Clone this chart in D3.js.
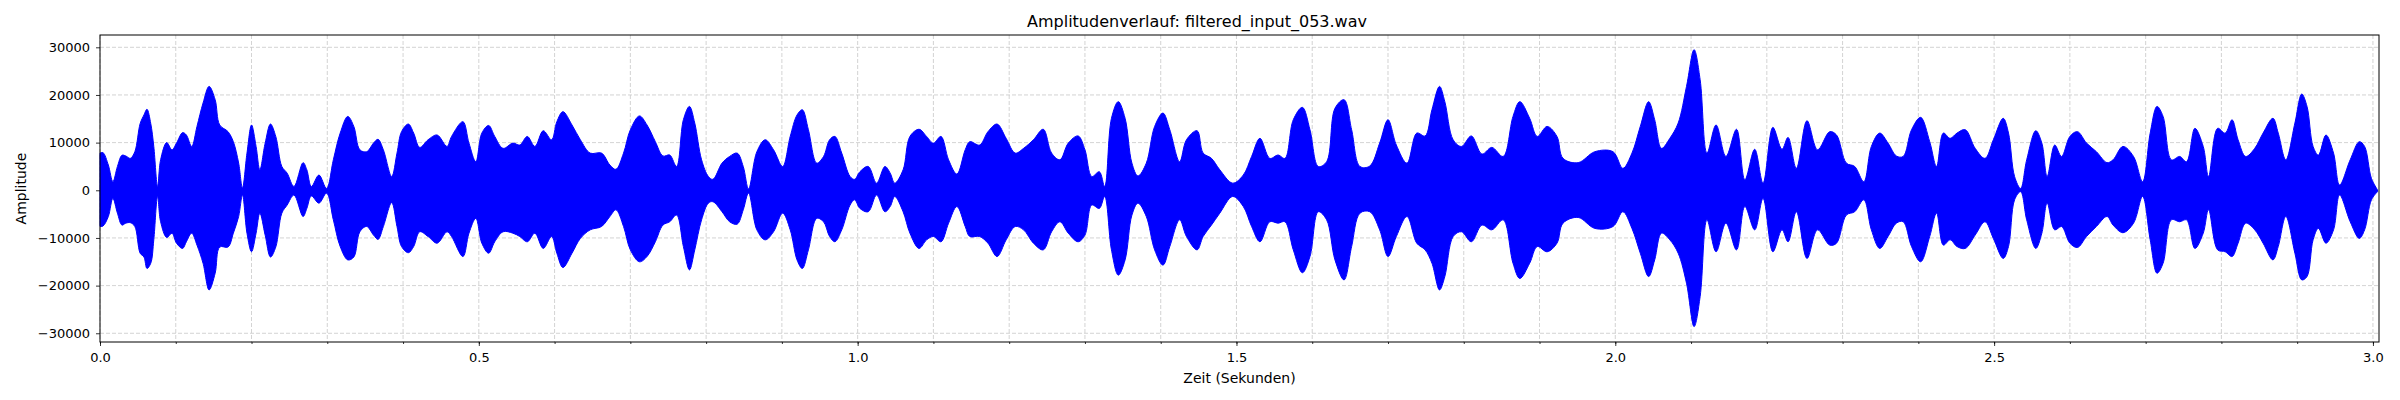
<!DOCTYPE html>
<html>
<head>
<meta charset="utf-8">
<script src="https://cdn.jsdelivr.net/npm/d3@7"></script>
<style>
  body { margin: 0; background: #fff; }
  svg text { font-family: "DejaVu Sans", sans-serif; fill: #000; }
</style>
</head>
<body>
<div id="chart"></div>
<script>
// envelope of the waveform: time (s), upper and lower amplitude
const times = [
  0.000, 0.004, 0.011, 0.017, 0.023, 0.029, 0.034, 0.040, 0.046, 0.053,
  0.058, 0.062, 0.067, 0.071, 0.076, 0.080, 0.088, 0.095, 0.101, 0.109,
  0.114, 0.121, 0.128, 0.136, 0.144, 0.152, 0.158, 0.169, 0.176, 0.183,
  0.188, 0.194, 0.200, 0.206, 0.211, 0.218, 0.225, 0.232, 0.240, 0.247,
  0.256, 0.268, 0.273, 0.279, 0.289, 0.299, 0.308, 0.317, 0.327, 0.335,
  0.343, 0.352, 0.361, 0.367, 0.374, 0.385, 0.392, 0.398, 0.407, 0.414,
  0.422, 0.433, 0.445, 0.458, 0.464, 0.479, 0.487, 0.496, 0.504, 0.513,
  0.521, 0.532, 0.545, 0.554, 0.564, 0.574, 0.585, 0.596, 0.603, 0.611,
  0.623, 0.634, 0.647, 0.662, 0.673, 0.681, 0.691, 0.700, 0.712, 0.722,
  0.733, 0.743, 0.752, 0.761, 0.770, 0.778, 0.785, 0.794, 0.803, 0.809,
  0.821, 0.831, 0.841, 0.849, 0.856, 0.867, 0.878, 0.889, 0.901, 0.911,
  0.920, 0.927, 0.935, 0.946, 0.955, 0.963, 0.970, 0.979, 0.990, 0.996,
  1.003, 1.014, 1.025, 1.036, 1.043, 1.049, 1.060, 1.069, 1.081, 1.091,
  1.100, 1.110, 1.120, 1.131, 1.142, 1.148, 1.161, 1.172, 1.184, 1.196,
  1.208, 1.219, 1.232, 1.245, 1.256, 1.267, 1.278, 1.291, 1.300, 1.309,
  1.319, 1.326, 1.335, 1.344, 1.353, 1.362, 1.370, 1.381, 1.392, 1.403,
  1.412, 1.425, 1.434, 1.448, 1.456, 1.467, 1.478, 1.495, 1.509, 1.520,
  1.531, 1.544, 1.555, 1.564, 1.575, 1.587, 1.597, 1.608, 1.619, 1.630,
  1.642, 1.652, 1.663, 1.676, 1.689, 1.700, 1.711, 1.725, 1.738, 1.749,
  1.758, 1.768, 1.775, 1.786, 1.797, 1.810, 1.824, 1.837, 1.852, 1.865,
  1.874, 1.887, 1.897, 1.910, 1.923, 1.931, 1.951, 1.973, 1.997, 2.010,
  2.022, 2.033, 2.044, 2.052, 2.061, 2.072, 2.083, 2.094, 2.104, 2.112,
  2.121, 2.133, 2.146, 2.160, 2.171, 2.184, 2.195, 2.208, 2.220, 2.228,
  2.239, 2.253, 2.267, 2.283, 2.292, 2.305, 2.316, 2.328, 2.338, 2.349,
  2.360, 2.371, 2.380, 2.391, 2.403, 2.415, 2.424, 2.433, 2.442, 2.451,
  2.462, 2.475, 2.488, 2.499, 2.512, 2.519, 2.527, 2.535, 2.543, 2.555,
  2.563, 2.570, 2.580, 2.589, 2.600, 2.610, 2.622, 2.635, 2.649, 2.657,
  2.670, 2.684, 2.696, 2.706, 2.715, 2.723, 2.734, 2.745, 2.754, 2.765,
  2.776, 2.783, 2.795, 2.805, 2.814, 2.822, 2.832, 2.844, 2.855, 2.868,
  2.875, 2.885, 2.897, 2.906, 2.913, 2.921, 2.928, 2.938, 2.948, 2.956,
  2.970, 2.982, 2.989, 2.998, 3.006
];

const upper = [
  7800, 7900, 5300, 1800, 5000, 7350, 7200, 6700, 8100, 14000,
  15800, 17000, 14000, 9200, 800, 6400, 10000, 8500, 9900, 12100,
  11600, 9200, 13400, 18300, 21800, 19000, 13700, 12300, 10200, 5700,
  500, 7800, 13700, 9200, 4300, 9900, 13900, 11300, 5000, 3600,
  800, 5800, 4300, 800, 3200, 400, 6400, 12000, 15500, 13400,
  8500, 8100, 9900, 10700, 8500, 2900, 7800, 12300, 13900, 12000,
  9000, 10600, 11600, 9200, 11300, 14400, 9900, 6000, 12000, 13600,
  11300, 8800, 9900, 9500, 11300, 9200, 12500, 10600, 14400, 16500,
  13700, 10600, 7800, 7800, 5300, 4400, 7800, 12700, 15600, 13700,
  10200, 7200, 7400, 5000, 14800, 17600, 14100, 6400, 2900, 2300,
  5700, 7100, 7800, 5000, 300, 8100, 10600, 8500, 5000, 11300,
  15800, 16900, 12700, 5700, 7100, 10600, 11300, 7800, 2900, 2300,
  3900, 5000, 1500, 5000, 3600, 1500, 4300, 11300, 12800, 11300,
  9900, 11300, 6400, 3400, 8500, 10200, 9500, 12300, 13900, 10900,
  7800, 8800, 10600, 12800, 7800, 6400, 9900, 11400, 8500, 2900,
  3900, 800, 15100, 18600, 15100, 5700, 3000, 5700, 13400, 16200,
  12700, 6000, 10600, 12500, 7800, 6700, 4300, 1500, 3200, 7100,
  10900, 6700, 7400, 6700, 14800, 17400, 12700, 5000, 6000, 17200,
  19000, 12700, 5000, 5100, 9900, 14800, 9500, 5700, 12000, 11400,
  16900, 21800, 18600, 10600, 9200, 11400, 7600, 9000, 7100, 15500,
  18600, 15100, 11300, 13400, 11300, 6700, 5800, 8100, 8100, 4600,
  7800, 13400, 18600, 14800, 8800, 10900, 14100, 21800, 29500, 23200,
  7800, 13700, 7100, 12800, 2200, 8600, 1500, 13200, 8600, 11100,
  4600, 14600, 8500, 12300, 11600, 5700, 5000, 1800, 9200, 12000,
  9900, 7200, 7100, 12700, 15300, 10200, 5000, 12000, 10900, 12000,
  12700, 8800, 6700, 10600, 15100, 12000, 2900, 400, 6400, 12500,
  9900, 2900, 9500, 7100, 11300, 12300, 9900, 8100, 5800, 6400,
  9200, 7100, 1800, 12000, 17600, 15500, 6400, 7100, 6000, 13000,
  9200, 2900, 13000, 12000, 14800, 10600, 7100, 8800, 12000, 15100,
  12000, 6400, 14100, 20200, 17600, 9200, 7400, 11600, 7800, 1100,
  6400, 10200, 9200, 2500, 100
];

const lower = [
  -7600, -7500, -5500, -1700, -4800, -7300, -6900, -6800, -7600, -13200,
  -14000, -16400, -15300, -10400, -1300, -6600, -9900, -9000, -11100, -12200,
  -10800, -9000, -11500, -15300, -20900, -17400, -11900, -11900, -9000, -5500,
  -1000, -9000, -12900, -9000, -4800, -9400, -14000, -11900, -4800, -3100,
  -1000, -5500, -3800, -1200, -2700, -600, -6200, -11800, -14600, -14000,
  -8700, -7600, -9400, -10300, -7600, -2600, -7600, -11800, -13100, -11800,
  -8700, -9700, -11100, -8700, -9700, -13900, -9000, -5900, -11100, -13200,
  -10800, -8700, -9000, -9700, -10800, -9000, -12200, -9700, -13200, -16200,
  -13200, -10100, -8300, -7600, -5500, -4100, -7600, -12500, -15000, -13900,
  -10800, -7300, -6600, -5200, -11800, -16700, -12500, -6200, -2700, -2400,
  -4500, -6600, -7100, -4100, -600, -8300, -10400, -8700, -4800, -8300,
  -14600, -16400, -12500, -5900, -6600, -9700, -10800, -8300, -3100, -2000,
  -3800, -4500, -1000, -4500, -3400, -1300, -4500, -9000, -12200, -10400,
  -9700, -10800, -6900, -3400, -7600, -9700, -9700, -11100, -13900, -10400,
  -7600, -8300, -11100, -12500, -8700, -6600, -9000, -10800, -9400, -3100,
  -3800, -1300, -12500, -17800, -14600, -5200, -2700, -5500, -12500, -15700,
  -11800, -6200, -9700, -12500, -9700, -7300, -4800, -1300, -3400, -7600,
  -10800, -6600, -6900, -6600, -12500, -17300, -13900, -4500, -6200, -14600,
  -18800, -11800, -4800, -4500, -8300, -13900, -9700, -5500, -11100, -12500,
  -15300, -20900, -18100, -9700, -8700, -10800, -7300, -8300, -6200, -15300,
  -18500, -15300, -11800, -12900, -11100, -6900, -5700, -8000, -7600, -4500,
  -8000, -13200, -18100, -14600, -9000, -10400, -13200, -19500, -28600, -22300,
  -6200, -12900, -6900, -12500, -3400, -8300, -1700, -12900, -8300, -10800,
  -4500, -14300, -8300, -11500, -11100, -5200, -4500, -2000, -8300, -12200,
  -9700, -6900, -6600, -11800, -15000, -9700, -4800, -11500, -10400, -11800,
  -12200, -9400, -6600, -10100, -14300, -11800, -2000, -300, -6200, -12200,
  -9000, -2700, -8300, -7600, -11100, -12000, -9700, -7600, -5500, -7300,
  -8900, -6900, -1300, -10400, -17400, -15300, -6200, -6600, -6200, -12200,
  -9000, -4100, -12500, -12900, -13900, -11100, -6900, -8300, -11100, -14600,
  -11800, -5500, -13200, -18800, -18100, -10400, -8000, -11100, -8300, -1000,
  -6600, -10100, -8300, -2000, -300
];

const xMajorTicks = [0.0, 0.5, 1.0, 1.5, 2.0, 2.5, 3.0];
const xMinorTicks = d3.range(0, 31).map((i) => i / 10);
const yTicks = [-30000, -20000, -10000, 0, 10000, 20000, 30000];

const titleText = "Amplitudenverlauf: filtered_input_053.wav";
const xLabel = "Zeit (Sekunden)";
const yLabel = "Amplitude";

const width = 2400;
const height = 400;
const plot = { left: 100, right: 2379, top: 35, bottom: 342 };

const data = times.map((t, i) => ({ t: t, hi: upper[i], lo: lower[i] }));

const svg = d3
  .select("#chart")
  .append("svg")
  .attr("width", width)
  .attr("height", height);

const x = d3.scaleLinear().domain([0, 3.008]).range([plot.left, plot.right]);
const y = d3.scaleLinear().domain([-31830, 32580]).range([plot.bottom, plot.top]);

// grid
const grid = svg.append("g")
  .attr("stroke", "#c8c8c8")
  .attr("stroke-width", 0.8)
  .attr("stroke-dasharray", "4,2");

grid.selectAll("line.v")
  .data(xMinorTicks)
  .enter()
  .append("line")
  .attr("x1", (d) => x(d))
  .attr("x2", (d) => x(d))
  .attr("y1", plot.top)
  .attr("y2", plot.bottom);

grid.selectAll("line.h")
  .data(yTicks)
  .enter()
  .append("line")
  .attr("x1", plot.left)
  .attr("x2", plot.right)
  .attr("y1", (d) => y(d))
  .attr("y2", (d) => y(d));

// waveform envelope
const area = d3
  .area()
  .x((d) => x(d.t))
  .y0((d) => y(d.lo))
  .y1((d) => y(d.hi))
  .curve(d3.curveCatmullRom.alpha(0.5));

svg.append("path")
  .datum(data)
  .attr("fill", "#0000ff")
  .attr("stroke", "#0000ff")
  .attr("stroke-width", 1)
  .attr("d", area);

// axes
svg.append("g")
  .attr("transform", `translate(0,${plot.bottom})`)
  .call(d3.axisBottom(x).tickValues(xMajorTicks).tickFormat(d3.format(".1f")).tickSize(4).tickPadding(6.5));

svg.append("g")
  .attr("transform", `translate(0,${plot.bottom})`)
  .call(d3.axisBottom(x).tickValues(xMinorTicks).tickFormat("").tickSize(2));

svg.append("g")
  .attr("transform", `translate(${plot.left},0)`)
  .call(d3.axisLeft(y).tickValues(yTicks).tickFormat(d3.format("d")).tickSize(4).tickPadding(6));

svg.selectAll(".tick text")
  .attr("font-size", 13)
  .attr("font-family", "DejaVu Sans, sans-serif")
  .attr("fill", "#000");
svg.selectAll(".tick line").attr("stroke", "#000").attr("stroke-width", 0.8);
svg.selectAll(".domain").remove();

// frame
svg.append("rect")
  .attr("x", plot.left)
  .attr("y", plot.top)
  .attr("width", plot.right - plot.left)
  .attr("height", plot.bottom - plot.top)
  .attr("fill", "none")
  .attr("stroke", "#000")
  .attr("stroke-width", 1);

// labels
svg.append("text")
  .attr("x", 1197)
  .attr("y", 26.5)
  .attr("text-anchor", "middle")
  .attr("font-size", 16)
  .text(titleText);

svg.append("text")
  .attr("x", (plot.left + plot.right) / 2)
  .attr("y", 383)
  .attr("text-anchor", "middle")
  .attr("font-size", 14)
  .text(xLabel);

svg.append("text")
  .attr("transform", `translate(26,${(plot.top + plot.bottom) / 2}) rotate(-90)`)
  .attr("text-anchor", "middle")
  .attr("font-size", 14)
  .text(yLabel);
</script>
</body>
</html>
